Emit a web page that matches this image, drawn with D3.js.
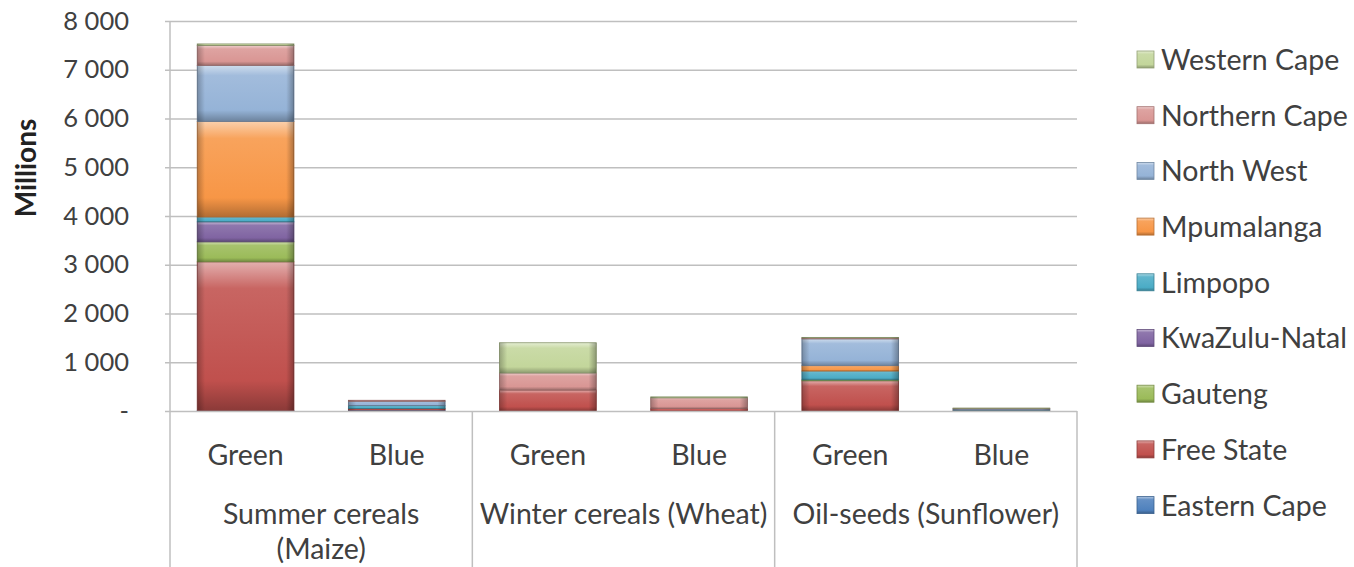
<!DOCTYPE html>
<html><head><meta charset="utf-8">
<script src="https://cdn.jsdelivr.net/npm/d3@7"></script>
<style>
body{margin:0;background:#fff;}
svg text{font-family:Lato,"Open Sans",sans-serif;fill:#404040;}
</style></head>
<body>
<svg id="chart" width="1354" height="567"></svg>
<script>
// ---- data ----
const regions = ["Eastern Cape","Free State","Gauteng","KwaZulu-Natal","Limpopo","Mpumalanga","North West","Northern Cape","Western Cape"];
const groups = ["Summer cereals (Maize)","Winter cereals (Wheat)","Oil-seeds (Sunflower)"];
const groupLines = [["Summer cereals","(Maize)"],["Winter cereals (Wheat)"],["Oil-seeds (Sunflower)"]];
const waterTypes = ["Green","Blue"];
const yTicks = [0,1000,2000,3000,4000,5000,6000,7000,8000];
// values per region, in bar order: Summer Green, Summer Blue, Winter Green, Winter Blue, Oil Green, Oil Blue
const easternCape  = [10, 20, 0, 0, 0, 0];
const freeState    = [3050, 30, 430, 50, 620, 15];
const gauteng      = [410, 0, 0, 0, 20, 0];
const kwazuluNatal = [410, 0, 0, 0, 0, 0];
const limpopo      = [100, 60, 0, 0, 180, 10];
const mpumalanga   = [1960, 0, 0, 0, 110, 0];
const northWest    = [1150, 90, 0, 0, 550, 20];
const northernCape = [410, 20, 350, 220, 20, 10];
const westernCape  = [30, 0, 620, 20, 10, 5];
const colors = ["#4F81BD","#C0504D","#9BBB59","#8064A2","#4BACC6","#F79646","#95B3D7","#D99694","#C3D69B"];

const seriesValues = [easternCape,freeState,gauteng,kwazuluNatal,limpopo,mpumalanga,northWest,northernCape,westernCape];
const barKeys = [];
groups.forEach((g,gi)=>waterTypes.forEach(w=>barKeys.push(gi+"|"+w)));
const table = barKeys.map((k,i)=>{
  const row = {key:k};
  regions.forEach((r,ri)=>row[r]=seriesValues[ri][i]);
  return row;
});

// ---- layout ----
const svg = d3.select("#chart");
const mLeft = 170, mRight = 1077, mTop = 21, mBottom = 411;
const x = d3.scaleBand().domain(barKeys).range([mLeft,mRight]).paddingInner(0.36).paddingOuter(0.18);
const y = d3.scaleLinear().domain([0,8000]).range([mBottom,mTop]);
const color = d3.scaleOrdinal().domain(regions).range(colors);

// gradients
const defs = svg.append("defs");
regions.forEach((r,i)=>{
  const c = d3.color(colors[i]);
  const g = defs.append("linearGradient").attr("id","g"+i).attr("x1",0).attr("y1",0).attr("x2",0).attr("y2",1);
  g.append("stop").attr("offset","0%").attr("stop-color",d3.interpolateRgb(c,"#fff")(0.55));
  g.append("stop").attr("offset","18%").attr("stop-color",d3.interpolateRgb(c,"#fff")(0.12));
  g.append("stop").attr("offset","80%").attr("stop-color",c.formatHex());
  g.append("stop").attr("offset","100%").attr("stop-color",c.darker(0.9).formatHex());
});
const hg = defs.append("linearGradient").attr("id","hedge").attr("x1",0).attr("y1",0).attr("x2",1).attr("y2",0);
hg.append("stop").attr("offset","0%").attr("stop-color","#000").attr("stop-opacity",0.25);
hg.append("stop").attr("offset","8%").attr("stop-color","#000").attr("stop-opacity",0);
hg.append("stop").attr("offset","92%").attr("stop-color","#000").attr("stop-opacity",0);
hg.append("stop").attr("offset","100%").attr("stop-color","#000").attr("stop-opacity",0.3);

// gridlines
svg.append("g").selectAll("line").data(yTicks.filter(d=>d>0)).join("line")
  .attr("x1",mLeft).attr("x2",mRight).attr("y1",d=>y(d)+0.5).attr("y2",d=>y(d)+0.5)
  .attr("stroke","#bfbfbf").attr("stroke-width",1.5);

// y axis
const yAxis = d3.axisLeft(y).tickValues(yTicks).tickSize(5).tickPadding(36)
  .tickFormat(d=> d===0 ? "-" : d3.format(",")(d).replace(",", " "));
const ya = svg.append("g").attr("transform",`translate(${mLeft},0)`).call(yAxis);
ya.select(".domain").remove();
ya.selectAll(".tick line").attr("stroke","#bfbfbf").attr("stroke-width",1.5);
ya.selectAll(".tick text").attr("font-size",25.5).style("fill","#404040").style("font-family","Lato, 'Open Sans', sans-serif");
svg.append("line").attr("x1",mLeft).attr("x2",mLeft).attr("y1",mTop).attr("y2",567).attr("stroke","#bfbfbf").attr("stroke-width",1.5);

// stacked bars
const stack = d3.stack().keys(regions);
const layers = stack(table);
const lg = svg.append("g").selectAll("g").data(layers).join("g");
lg.each(function(layer,li){
  const g = d3.select(this);
  const segs = layer.filter(d=>d[1]-d[0]>0);
  g.selectAll("rect.f").data(segs).join("rect").attr("class","f")
    .attr("x",d=>x(d.data.key)).attr("width",x.bandwidth())
    .attr("y",d=>y(d[1])).attr("height",d=>y(d[0])-y(d[1]))
    .attr("fill",`url(#g${li})`)
    .attr("stroke",d3.color(colors[li]).darker(1).formatHex()).attr("stroke-width",0.8);
  g.selectAll("rect.e").data(segs).join("rect").attr("class","e")
    .attr("x",d=>x(d.data.key)).attr("width",x.bandwidth())
    .attr("y",d=>y(d[1])).attr("height",d=>y(d[0])-y(d[1]))
    .attr("fill","url(#hedge)");
});

// category axis
svg.append("line").attr("x1",mLeft).attr("x2",mRight).attr("y1",mBottom+0.5).attr("y2",mBottom+0.5).attr("stroke","#bfbfbf").attr("stroke-width",1.5);
const gw = (mRight-mLeft)/groups.length;
d3.range(1,groups.length+1).forEach(i=>{
  svg.append("line").attr("x1",mLeft+gw*i).attr("x2",mLeft+gw*i).attr("y1",mBottom).attr("y2",567)
    .attr("stroke","#bfbfbf").attr("stroke-width",1.5);
});
svg.append("g").selectAll("text").data(barKeys).join("text")
  .attr("x",d=>x(d)+x.bandwidth()/2).attr("y",465).attr("text-anchor","middle")
  .attr("font-size",28.5).text(d=>d.split("|")[1]);
groupLines.forEach((lines,gi)=>{
  lines.forEach((t,li)=>{
    svg.append("text").attr("x",mLeft+gw*(gi+0.5)).attr("y",524+li*35).attr("text-anchor","middle")
      .attr("font-size",28.5).text(t);
  });
});

// y title
svg.append("text").attr("transform","translate(36,168) rotate(-90)").attr("text-anchor","middle")
  .attr("font-size",28).attr("font-weight","bold").style("fill","#222").text("Millions");

// legend
const legendOrder = regions.slice().reverse();
const leg = svg.append("g").selectAll("g").data(legendOrder).join("g")
  .attr("transform",(d,i)=>`translate(1137,${60+i*55.7})`);
leg.append("rect").attr("x",0).attr("y",-9).attr("width",17).attr("height",17)
  .attr("fill",d=>`url(#g${regions.indexOf(d)})`)
  .attr("stroke",d=>d3.color(color(d)).darker(0.8).formatHex()).attr("stroke-width",0.8);
leg.append("text").attr("x",24).attr("y",0).attr("dy","0.35em").attr("font-size",28.5).text(d=>d);
</script>
</body></html>
